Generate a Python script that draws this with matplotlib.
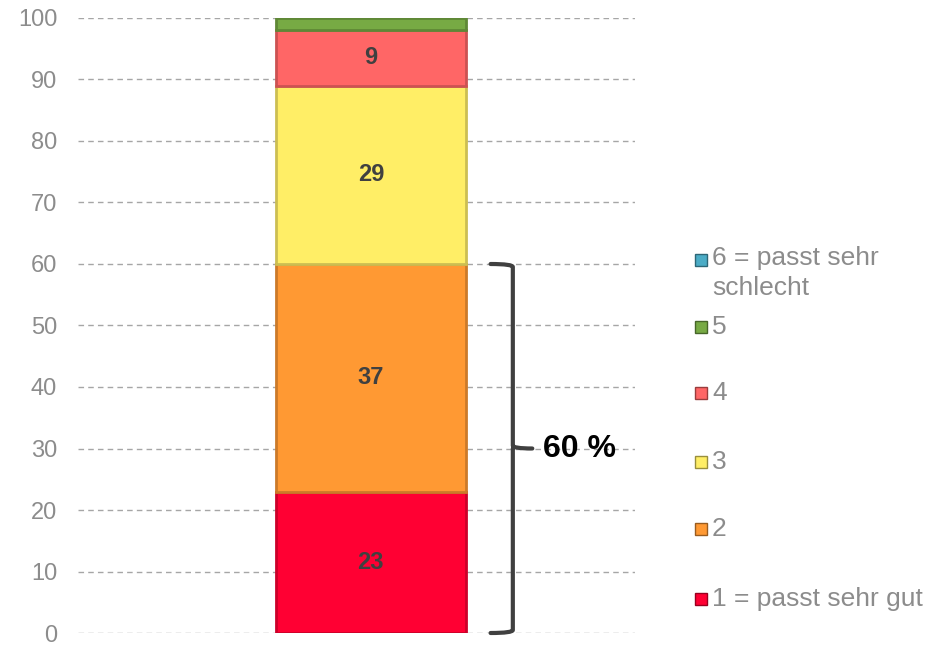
import matplotlib
matplotlib.use("Agg")
import matplotlib.pyplot as plt
from matplotlib.patches import Rectangle
from matplotlib.path import Path
from matplotlib.patches import PathPatch
import matplotlib.colors as mcolors

plt.rcParams['font.family'] = ['Liberation Sans', 'DejaVu Sans']

categories = ["1 = passt sehr gut", "2", "3", "4", "5", "6 = passt sehr\nschlecht"]
values = [23, 37, 29, 9, 2, 0]
colors = ["#FF0033", "#FF9933", "#FFEE66", "#FF6666", "#77AA44", "#4BACC6"]
labels_shown = ["23", "37", "29", "9", "", ""]
yticks = [0, 10, 20, 30, 40, 50, 60, 70, 80, 90, 100]
bracket_span = (0, 60)
bracket_text = "60 %"

fig = plt.figure(figsize=(9.31, 6.45), dpi=100)
ax = fig.add_axes([0.0838, 0.0186, 0.598, 0.9535])

def darker(c, f=0.8):
    r, g, b = mcolors.to_rgb(c)
    return (r * f, g * f, b * f)

bottom = 0
for v, c, lab in zip(values, colors, labels_shown):
    if v > 0:
        ax.bar(0, v, bottom=bottom, width=0.34, color=c,
               edgecolor=darker(c), linewidth=2, zorder=3)
        if lab:
            ax.text(0, bottom + v / 2, lab, ha='center', va='center',
                    fontsize=17, fontweight='bold', color='#404040', zorder=4)
    bottom += v

ax.set_xlim(-0.526, 0.474)
ax.set_ylim(0, 100)
ax.set_yticks(yticks)
ax.set_xticks([])
for s in ax.spines.values():
    s.set_visible(False)
ax.yaxis.grid(True, linestyle=(0, (4, 3)), color='#A6A6A6', linewidth=1, zorder=0)
ax.tick_params(axis='y', length=0, pad=15, labelsize=17, labelcolor='#8C8C8C')

# curly bracket
y0, y1 = bracket_span
ym = (y0 + y1) / 2
xl, xv, xt = 0.215, 0.255, 0.29
verts = [(xl, y1), (xv, y1), (xv, y1 - 0.5), (xv, ym + 0.5), (xv, ym), (xt, ym),
         (xv, ym), (xv, ym - 0.5), (xv, y0 + 0.5), (xv, y0), (xl, y0)]
codes = [Path.MOVETO, Path.CURVE3, Path.CURVE3, Path.LINETO, Path.CURVE3, Path.CURVE3,
         Path.MOVETO, Path.CURVE3, Path.LINETO, Path.CURVE3, Path.CURVE3]
path = Path(verts, codes)
ax.add_patch(PathPatch(path, facecolor='none', edgecolor='#404040', linewidth=3,
                       capstyle='round', zorder=5, clip_on=False))
ax.text(xt + 0.02, ym, bracket_text, ha='left', va='center', fontsize=23,
        fontweight='bold', color='black', zorder=6)

# legend (manual)
leg_y = [599, 529, 462, 393, 327, 260]
for cat, c, yp in zip(categories, colors, leg_y):
    fy = 1 - yp / 645
    fig.patches.append(Rectangle((695 / 931, fy - 6 / 645), 12 / 931, 12 / 645,
                                 transform=fig.transFigure, facecolor=c,
                                 edgecolor=darker(c, 0.6), linewidth=1))
    if '\n' in cat:
        fig.text(712 / 931, 1 - 246 / 645, cat, ha='left', va='top',
                 fontsize=19, color='#8C8C8C', linespacing=1.3)
    else:
        fig.text(712 / 931, fy, cat, ha='left', va='center',
                 fontsize=19, color='#8C8C8C')

fig.savefig("out.png", dpi=100)
